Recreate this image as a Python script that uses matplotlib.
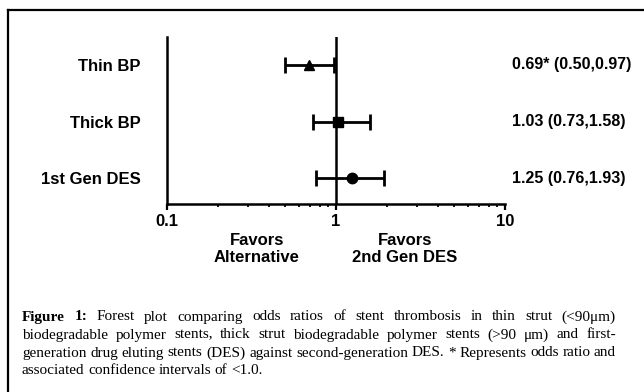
import numpy as np
import matplotlib
matplotlib.use('Agg')
import matplotlib.pyplot as plt
from matplotlib.lines import Line2D

# data
labels = ['Thin BP', 'Thick BP', '1st Gen DES']
odds = [0.69, 1.03, 1.25]
lower = [0.50, 0.73, 0.76]
upper = [0.97, 1.58, 1.93]
markers = ['^', 's', 'o']
value_text = ['0.69* (0.50,0.97)', '1.03 (0.73,1.58)', '1.25 (0.76,1.93)']
xticks = [0.1, 1, 10]
xtick_labels = ['0.1', '1', '10']

caption_lines = [
    'Figure 1: Forest plot comparing odds ratios of stent thrombosis in thin strut (<90\u03bcm)',
    'biodegradable polymer stents, thick strut biodegradable polymer stents (>90 \u03bcm) and first-',
    'generation drug eluting stents (DES) against second-generation DES. * Represents odds ratio and',
    'associated confidence intervals of <1.0.',
]

W, H = 644, 392
fig = plt.figure(figsize=(W / 100, H / 100), dpi=100)
sans = 'Liberation Sans'
serif = 'Liberation Serif'

def fx(px):
    return px / W

def fy(py):
    return 1 - py / H

ax = fig.add_axes([fx(167), fy(204), fx(505) - fx(167), fy(37) - fy(204)])
ypos = np.arange(len(labels))[::-1] + 1

odds_a = np.array(odds)
err = [odds_a - np.array(lower), np.array(upper) - odds_a]
for i in range(len(labels)):
    ax.errorbar(odds[i], ypos[i], xerr=[[err[0][i]], [err[1][i]]], fmt=markers[i],
                color='black', ms=7.5 if markers[i] != '^' else 6.5, elinewidth=2,
                capsize=6, capthick=2)

ax.axvline(1, color='black', lw=1.8, zorder=0)
ax.set_xscale('log')
ax.set_xlim(0.1, 10)
ax.set_ylim(0.54, 3.5)
ax.set_xticks(xticks)
ax.set_xticklabels(xtick_labels, fontfamily=sans, fontweight='bold', fontsize=12)
ax.set_yticks(ypos)
ax.set_yticklabels(labels, fontfamily=sans, fontweight='bold', fontsize=12)
ax.tick_params(axis='y', length=0, pad=19)
ax.tick_params(axis='x', which='major', length=4, width=1.6, pad=3)
ax.tick_params(axis='x', which='minor', length=2.5, width=1.3)
for s in ['top', 'right']:
    ax.spines[s].set_visible(False)
for s in ['left', 'bottom']:
    ax.spines[s].set_linewidth(1.8)

for i in range(len(labels)):
    fig.text(fx(512), fy(178 - (ypos[i] - 1) * 56.5), value_text[i], ha='left', va='center',
             fontfamily=sans, fontweight='bold', fontsize=11.5)

fig.text(fx(257), fy(249), 'Favors\nAlternative', ha='center', va='center',
         fontfamily=sans, fontweight='bold', fontsize=12, linespacing=1.15)
fig.text(fx(405), fy(249), 'Favors\n2nd Gen DES', ha='center', va='center',
         fontfamily=sans, fontweight='bold', fontsize=12, linespacing=1.15)

# border lines (top and left)
fig.add_artist(Line2D([fx(8), 1], [fy(10), fy(10)], color='black', lw=1.6))
fig.add_artist(Line2D([fx(8), fx(8)], [fy(10), 0], color='black', lw=1.6))

# justified caption
fig.canvas.draw()
renderer = fig.canvas.get_renderer()
left_px, right_px = 22, 616
cap_size = 11
for li, line in enumerate(caption_lines):
    words = line.split(' ')
    y = fy(317 + li * 18)
    texts = []
    for wi, w in enumerate(words):
        bold = (li == 0 and wi < 2)
        t = fig.text(0, y, w, ha='left', va='center', fontfamily=serif,
                     fontsize=cap_size, fontweight='bold' if bold else 'normal')
        texts.append(t)
    widths = [t.get_window_extent(renderer).width for t in texts]
    if li < len(caption_lines) - 1:
        gap = (right_px - left_px - sum(widths)) / (len(words) - 1)
    else:
        gap = 3.5
    x = left_px
    for t, wd in zip(texts, widths):
        t.set_x(fx(x))
        x += wd + gap

fig.savefig('out.png', dpi=100)
